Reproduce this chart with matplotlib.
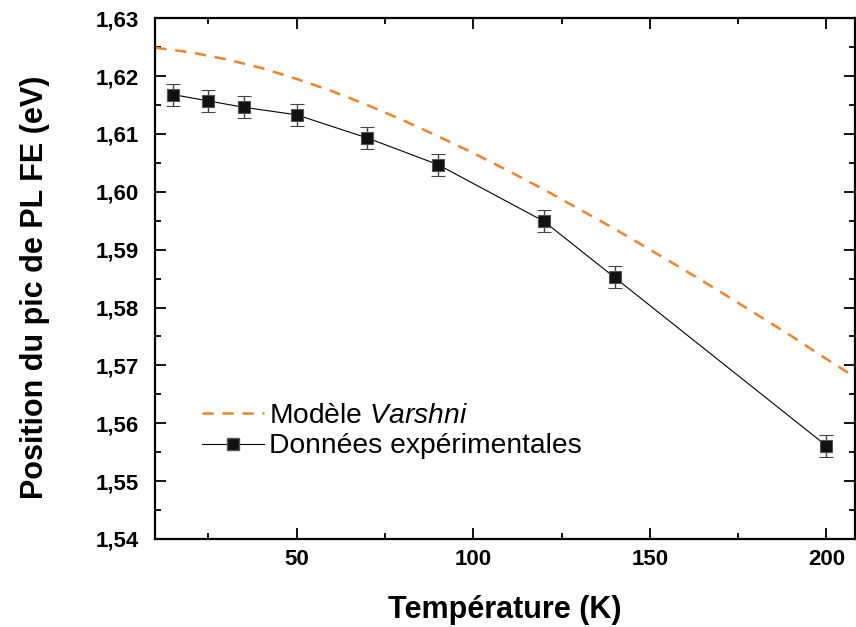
import matplotlib
matplotlib.use("Agg")
import matplotlib.pyplot as plt
from matplotlib.ticker import MultipleLocator, FuncFormatter
from matplotlib.lines import Line2D

# Experimental data
temp_exp = [15, 25, 35, 50, 70, 90, 120, 140, 200]
energy_exp = [1.6168, 1.6157, 1.6146, 1.6133, 1.6093, 1.6047, 1.5949, 1.5852, 1.5561]
energy_err = [0.0019, 0.0019, 0.0019, 0.0019, 0.0019, 0.0019, 0.0019, 0.0019, 0.0019]

# Varshni model curve
temp_model = [10, 20, 30, 40, 50, 60, 70, 80, 90, 100, 110, 120, 130, 140, 150,
              160, 170, 180, 190, 200, 208]
energy_model = [1.6249, 1.6241, 1.6229, 1.6214, 1.6195, 1.6174, 1.6150, 1.6124,
                1.6096, 1.6067, 1.6036, 1.6004, 1.5970, 1.5936, 1.5900, 1.5864,
                1.5827, 1.5789, 1.5751, 1.5711, 1.5680]

plt.rcParams['font.family'] = ['Liberation Sans', 'DejaVu Sans']
plt.rcParams['mathtext.fontset'] = 'custom'
plt.rcParams['mathtext.rm'] = 'Liberation Sans'
plt.rcParams['mathtext.it'] = 'Liberation Sans:italic'

fig = plt.figure(figsize=(8.56, 6.27), dpi=100)
ax = fig.add_axes([0.1815, 0.1404, 0.8170, 0.8306])

orange = '#F58220'
ax.plot(temp_model, energy_model, color=orange, lw=1.8, dashes=(4.5, 3.5), zorder=2)
ax.errorbar(temp_exp, energy_exp, yerr=energy_err, fmt='s-', color='black',
            lw=0.8, ms=9, mfc='#111111', mec='#555555', mew=0.8,
            ecolor='#444444', elinewidth=1.0, capsize=5, capthick=1.0, zorder=3)

ax.set_xlim(10, 208)
ax.set_ylim(1.54, 1.63)
ax.xaxis.set_major_locator(MultipleLocator(50))
ax.xaxis.set_minor_locator(MultipleLocator(25))
ax.yaxis.set_major_locator(MultipleLocator(0.01))
ax.yaxis.set_minor_locator(MultipleLocator(0.005))
ax.yaxis.set_major_formatter(FuncFormatter(lambda v, p: f"{v:.2f}".replace('.', ',')))

for s in ax.spines.values():
    s.set_linewidth(1.6)
ax.tick_params(which='both', direction='in', top=True, right=True, width=1.3)
ax.tick_params(which='major', length=8, labelsize=16)
ax.tick_params(axis='y', which='major', pad=12)
ax.tick_params(axis='x', which='major', pad=7)
ax.tick_params(which='minor', length=4)
for lab in ax.get_xticklabels() + ax.get_yticklabels():
    lab.set_fontweight('bold')

ax.set_xlabel('Température (K)', fontsize=22, fontweight='bold', labelpad=18)
ax.set_ylabel('Position du pic de PL FE (eV)', fontsize=22, fontweight='bold')
ax.yaxis.set_label_coords(-0.15, 0.483)

h1 = Line2D([], [], color=orange, lw=1.8, dashes=(4.5, 3.5))
h2 = Line2D([], [], color='black', lw=0.8, marker='s', ms=9, mfc='#111111', mec='#555555')
leg = ax.legend([h1, h2], ['Modèle $\\mathit{Varshni}$', 'Données expérimentales'],
                loc='lower left', bbox_to_anchor=(0.03, 0.104), frameon=False,
                fontsize=20.3, handlelength=2.2, handletextpad=0.2, labelspacing=0.15)

fig.savefig('out.png', dpi=100)
